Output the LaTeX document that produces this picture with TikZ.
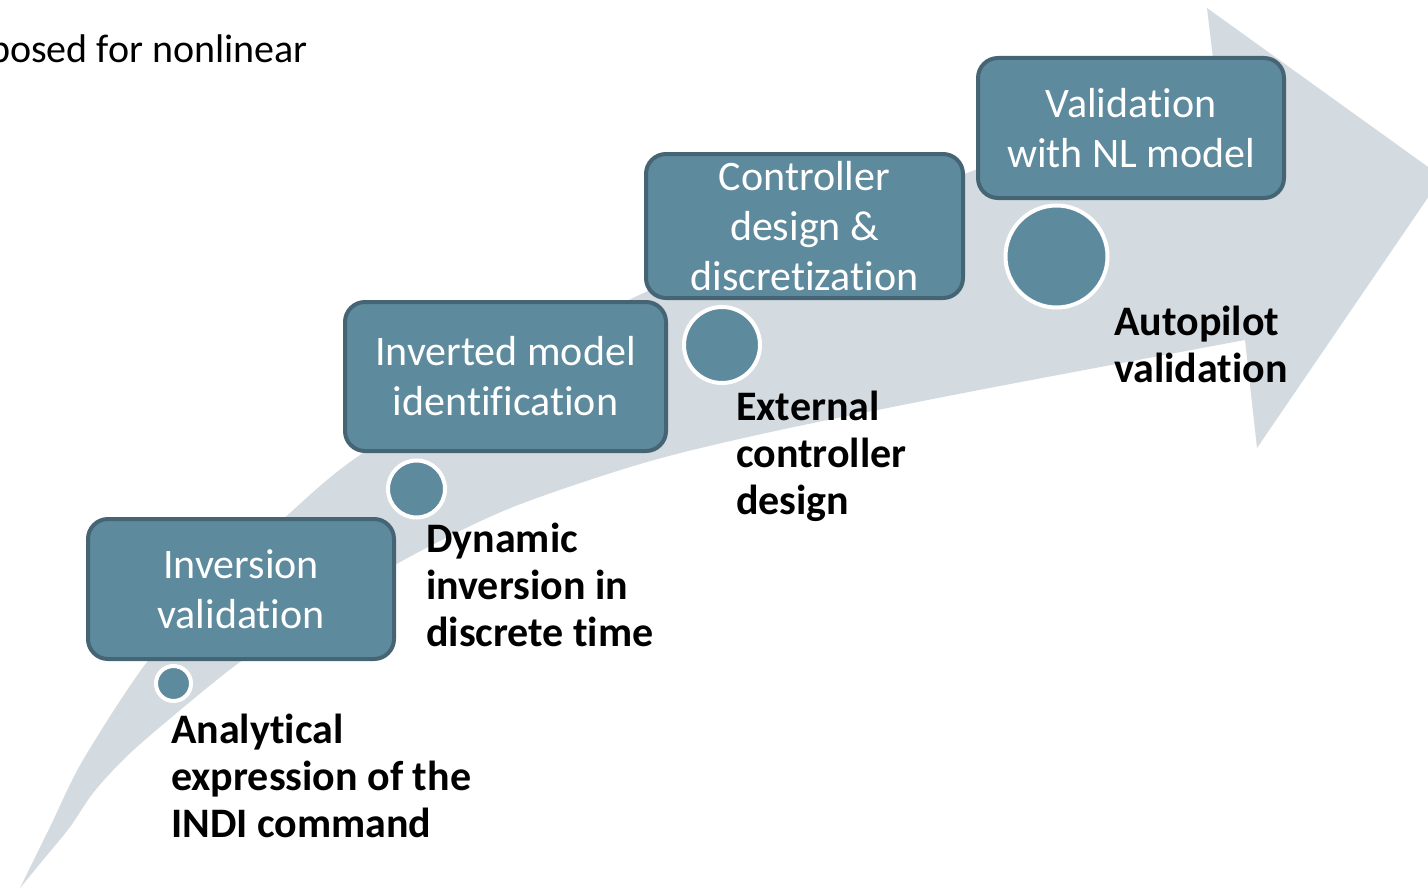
\documentclass[tikz,border=0pt]{standalone}
\usepackage{fontspec}
\setmainfont{Carlito}[Ligatures={NoCommon,NoRare}]
\definecolor{boxfill}{RGB}{94,138,157}
\definecolor{boxline}{RGB}{69,101,116}
\definecolor{arrowgrey}{RGB}{211,218,224}
\tikzset{
  stepbox/.style={draw=boxline, line width=4pt, fill=boxfill, rounded corners=20pt,
    text=white, align=center, font=\fontsize{42}{50}\selectfont, inner sep=0pt},
  dot/.style={circle, draw=white, line width=4pt, fill=boxfill, inner sep=0pt},
  lbl/.style={anchor=north west, align=left, font=\fontsize{42}{47}\selectfont\bfseries, inner sep=0pt},
}
\begin{document}
\begin{tikzpicture}[x=1pt,y=-1pt]
\useasboundingbox (0,0) rectangle (1428,891);
% big curved arrow
\fill[arrowgrey] (20,888)
  -- plot[smooth] coordinates {(20,888) (50,827) (83,760) (147,662) (218,584) (290,513) (360,455) (500,370) (635,297) (800,228) (967,173) (1215,75)}
  -- (1207,8) -- (1442,177) -- (1257,448) -- (1245,340)
  -- plot[smooth] coordinates {(1245,340) (979,390) (780,430) (647,462) (513,507) (413,555) (325,607) (240,662) (160,727) (123,760) (93,793) (70,827) (43,860) (20,888)}
  -- cycle;
% top text (cut at left edge, as in the reference)
\node[anchor=base east, inner sep=0pt, font=\fontsize{40}{48}\selectfont] (title) at (308,63) {posed for nonlinear};
% boxes
\node[stepbox, minimum width=306pt, minimum height=140pt] (b1) at (241,589) {Inversion\\validation};
\node[stepbox, minimum width=317pt, minimum height=144pt] (b3) at (804.5,226) {Controller\\design \&\\discretization};
\node[stepbox, minimum width=321pt, minimum height=149pt] (b2) at (505.5,376.5) {Inverted model\\identification};
\node[stepbox, minimum width=306pt, minimum height=140pt] (b4) at (1131,128) {Validation\\with NL model};
% dots
\node[dot, minimum size=35pt] (c1) at (173.5,683.5) {};
\node[dot, minimum size=57pt] (c2) at (416.5,489) {};
\node[dot, minimum size=76pt] (c3) at (722,345) {};
\node[dot, minimum size=102pt] (c4) at (1056.5,256.5) {};
% labels
\node[lbl] (l1) at (171,714) {Analytical\\expression of the\\INDI command};
\node[lbl] (l2) at (426,523) {Dynamic\\inversion in\\discrete time};
\node[lbl] (l3) at (736,391) {External\\controller\\design};
\node[lbl] (l4) at (1114,306) {Autopilot\\validation};
\end{tikzpicture}
\end{document}
